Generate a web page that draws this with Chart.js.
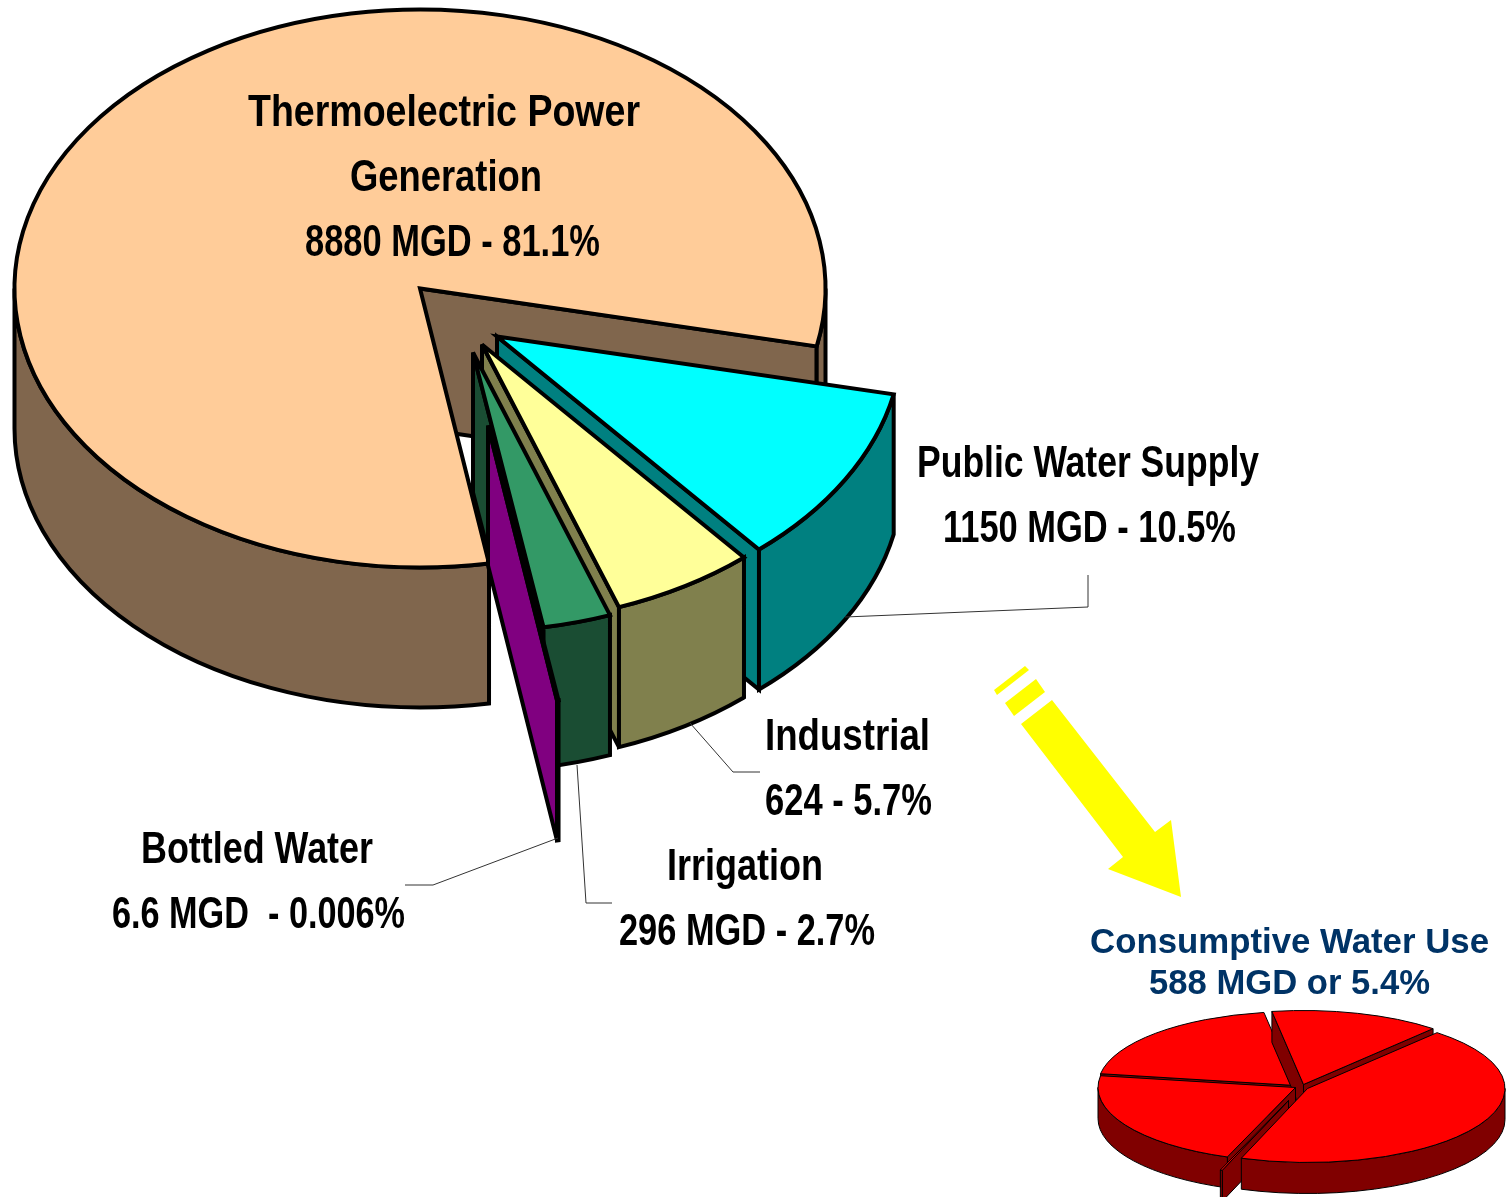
<!DOCTYPE html>
<html>
<head>
<meta charset="utf-8">
<title>Water use</title>
<script src="https://cdn.jsdelivr.net/npm/chart.js@4"></script>
<style>
html,body{margin:0;padding:0;background:#fff;overflow:hidden}
canvas{position:absolute;left:0;top:0}
</style>
</head>
<body>
<canvas id="withdrawal" width="1512" height="1197"></canvas>
<canvas id="consumptive" width="1512" height="1197"></canvas>
<script>
const withdrawalCategories = ['Thermoelectric Power Generation','Public Water Supply','Industrial','Irrigation','Bottled Water'];
const withdrawalValues = [8880,1150,624,296,6.6];
const withdrawalTop = ['#FFCC99','#00FFFF','#FFFF99','#339966','#800080'];
const withdrawalSide = ['#80664D','#008080','#80804D','#1A4D33','#800080'];
const withdrawalExplodeX = [0,77,62,53,68];
const withdrawalExplodeY = [0,48,56,64,137];

const consumptiveCategories = ['Thermoelectric','Bottled Water','Irrigation','Industrial','Public Water Supply'];
const consumptiveValues = [259,1,129,117,82];
const consumptiveExplodeX = [7,-12,-5,-5,3];
const consumptiveExplodeY = [1,13,0,-2,-3];

const labelTexts = [
 ['Thermoelectric Power',248,126,392],['Generation',350,191,192],['8880 MGD - 81.1%',305,256,295],
 ['Public Water Supply',917,477,342],['1150 MGD - 10.5%',943,542,293],
 ['Industrial',765,750,165],['624 - 5.7%',765,815,167],
 ['Irrigation',667,880,156],['296 MGD - 2.7%',619,945,256],
 ['Bottled Water',141,863,232],['6.6 MGD  - 0.006%',112,928,293]
];
const consumptiveTexts = [['Consumptive Water Use',1090,953,399],['588 MGD or 5.4%',1149,994,281]];
const leaderLines = [
 [[1088,575],[1088,607],[845,617]],
 [[690,723],[733,772],[760,772]],
 [[577,765],[586,903],[612,903]],
 [[558,838],[433,885],[405,885]]
];
const arrowShapes = [
 [[1025,666],[1029,670],[997,695],[994,690]],
 [[1036,679],[1045,692],[1014,716],[1005,703]],
 [[1052,700],[1155,832],[1171,820],[1181,897],[1108,869],[1123,857],[1021,724]]
];

const TWO_PI = Math.PI*2;
const pie3d = {
  id:'pie3d',
  beforeDatasetsDraw(chart,args,o){
    const ctx = chart.ctx;
    const arcs = chart.getDatasetMeta(0).data;
    const ds = chart.data.datasets[0];
    o.order.forEach(i=>{
      const a = arcs[i];
      const cx = o.cx + o.dx[i], cy = o.cy + o.dy[i];
      const rx = a.outerRadius, ry = rx*o.squash, d = o.depth;
      const s = a.startAngle, e = a.endAngle;
      ctx.save();
      ctx.lineWidth = o.lineWidth;
      ctx.lineJoin = 'miter';
      ctx.miterLimit = 4;
      ctx.strokeStyle = '#000';
      ctx.fillStyle = ds.sideColor[i];
      // radial cut faces that look towards the viewer
      [[s,s-Math.PI/2],[e,e+Math.PI/2]].forEach(([ang,normal])=>{
        if(Math.sin(normal)>0){
          const px = cx+rx*Math.cos(ang), py = cy+ry*Math.sin(ang);
          ctx.beginPath();
          ctx.moveTo(cx,cy);ctx.lineTo(px,py);ctx.lineTo(px,py+d);ctx.lineTo(cx,cy+d);ctx.closePath();
          ctx.fill();ctx.stroke();
        }
      });
      // outer wall
      for(let k=Math.floor(s/TWO_PI)-1;k<=Math.ceil(e/TWO_PI);k++){
        const lo = Math.max(s,k*TWO_PI), hi = Math.min(e,k*TWO_PI+Math.PI);
        if(hi>lo){
          ctx.beginPath();
          ctx.ellipse(cx,cy,rx,ry,0,lo,hi);
          ctx.ellipse(cx,cy+d,rx,ry,0,hi,lo,true);
          ctx.closePath();
          ctx.fill();ctx.stroke();
        }
      }
      // top face: the library's own arc, squashed into the tilted plane
      ctx.save();
      ctx.translate(cx,cy);
      ctx.scale(1,o.squash);
      ctx.translate(-a.x,-a.y);
      a.draw(ctx);
      ctx.restore();
      ctx.beginPath();
      ctx.moveTo(cx,cy);
      ctx.ellipse(cx,cy,rx,ry,0,s,e);
      ctx.closePath();
      ctx.stroke();
      ctx.restore();
    });
    return false;
  }
};
const annotations = {
  id:'annotations',
  afterDraw(chart){
    if(chart.canvas.id!=='withdrawal')return;
    const ctx = chart.ctx;
    ctx.save();
    ctx.fillStyle='#FFFF00';
    arrowShapes.forEach(p=>{
      ctx.beginPath();p.forEach(([x,y],i)=>i?ctx.lineTo(x,y):ctx.moveTo(x,y));ctx.closePath();ctx.fill();
    });
    ctx.strokeStyle='#333';ctx.lineWidth=1;
    leaderLines.forEach(p=>{
      ctx.beginPath();p.forEach(([x,y],i)=>i?ctx.lineTo(x,y):ctx.moveTo(x,y));ctx.stroke();
    });
    ctx.textAlign='left';ctx.textBaseline='alphabetic';
    ctx.fillStyle='#000';
    ctx.font='bold 45px "Liberation Sans"';
    labelTexts.forEach(([t,x,y,w])=>ctx.fillText(t,x,y,w));
    ctx.fillStyle='#003366';
    ctx.font='bold 35px "Liberation Sans"';
    consumptiveTexts.forEach(([t,x,y,w])=>ctx.fillText(t,x,y,w));
    ctx.restore();
  }
};
function build(id,labels,values,top,side,rotation,radius,opt){
  return new Chart(document.getElementById(id),{
    type:'pie',
    data:{labels,datasets:[{data:values,backgroundColor:top,sideColor:side,borderWidth:0,radius}]},
    options:{
      responsive:false,animation:false,devicePixelRatio:1,rotation,
      layout:{padding:0},
      plugins:{legend:{display:false},tooltip:{enabled:false},pie3d:opt}
    },
    plugins:[pie3d,annotations]
  });
}
build('withdrawal',withdrawalCategories,withdrawalValues,withdrawalTop,withdrawalSide,170.2,405.5,
  {cx:420,cy:288.5,squash:279/405.5,depth:140,lineWidth:4,dx:withdrawalExplodeX,dy:withdrawalExplodeY,order:[0,1,2,3,4]});
build('consumptive',consumptiveCategories,consumptiveValues,
  consumptiveValues.map(()=>'#FF0000'),consumptiveValues.map(()=>'#800000'),41,197.5,
  {cx:1300.5,cy:1087.5,squash:74/197.5,depth:31,lineWidth:1,dx:consumptiveExplodeX,dy:consumptiveExplodeY,order:[3,4,2,1,0]});
</script>
</body>
</html>
